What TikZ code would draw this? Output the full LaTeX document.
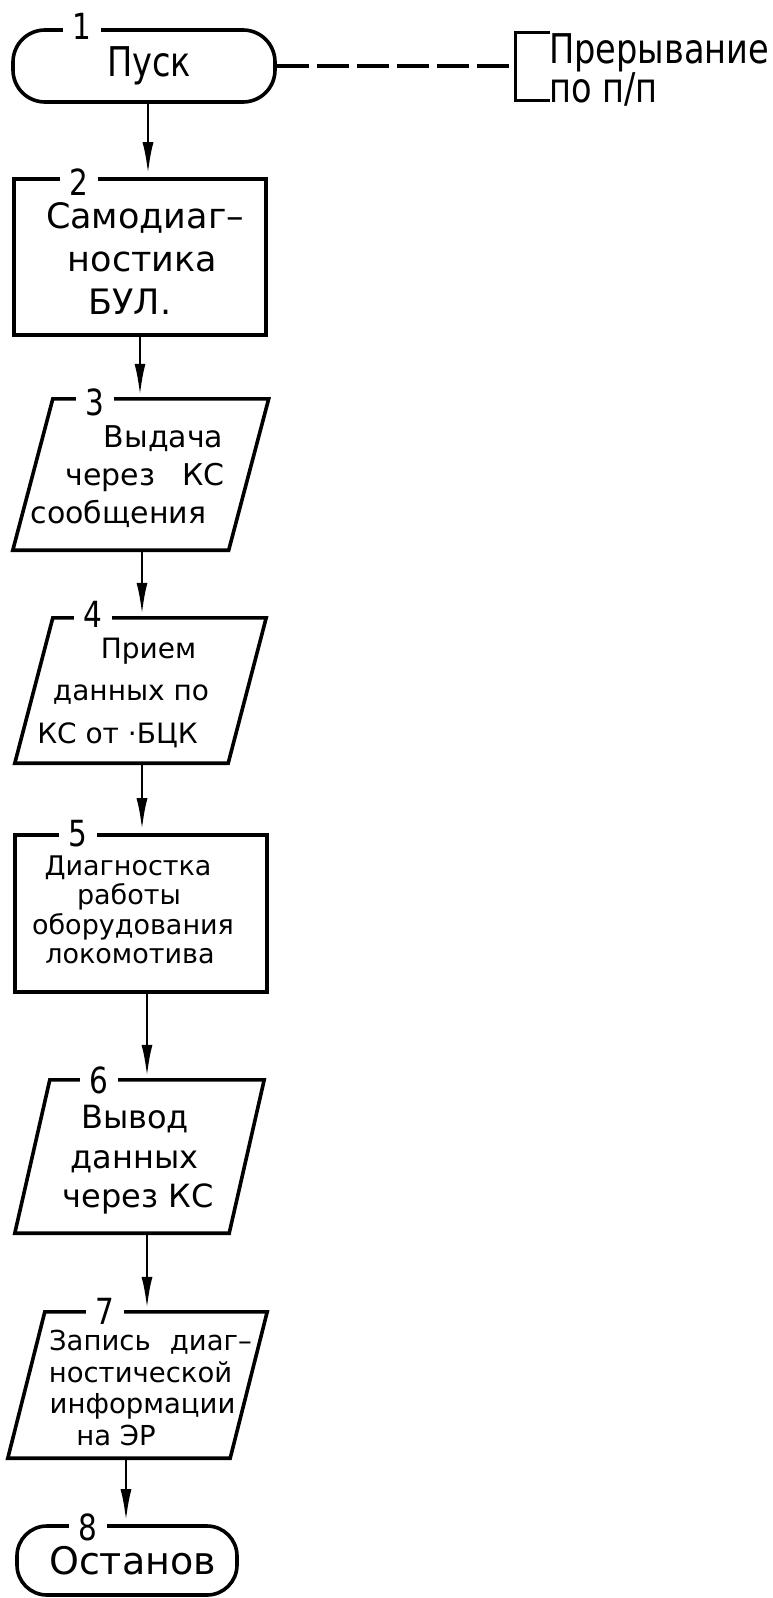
\documentclass[tikz,border=0pt]{standalone}
\usepackage{fontspec}
\setmainfont{DejaVu Sans}
\newfontfamily\narrowsans{DejaVu Sans}[FakeStretch=0.82]
\usetikzlibrary{arrows.meta}
\tikzset{
  frame/.style={draw, line width=3.6pt},
  term/.style={frame, rounded corners=#1, inner sep=0pt},
  proc/.style={frame, inner sep=0pt},
  iobody/.style={inner sep=0pt},
  txt/.style={inner sep=0pt, align=center, anchor=north},
  num/.style={fill=white, inner xsep=10pt, inner ysep=0pt, font=\narrowsans\fontsize{36}{36}\selectfont},
  flow/.style={line width=2.8pt, -{Latex[length=32pt,width=11pt]}, shorten >=3pt},
  fs/.style 2 args={font=\fontsize{#1}{#2}\selectfont},
  nfs/.style 2 args={font=\narrowsans\fontsize{#1}{#2}\selectfont},
}
% parallelogram drawn round an empty node: #1 node name, #2 half of the slant
\newcommand\slantframe[2]{%
  \draw[frame, line join=miter] ([xshift=#2]#1.north west) -- ([xshift=#2]#1.north east)
    -- ([xshift=-#2]#1.south east) -- ([xshift=-#2]#1.south west) -- cycle;}
\begin{document}
\begin{tikzpicture}[x=1pt,y=-1pt]
\useasboundingbox (0,0) rectangle (773,1598);

% 1: start
\node[term=32pt, minimum width=262pt, minimum height=72pt, nfs={41}{41}] (t1) at (144,66) {\hspace*{10pt}Пуск};
\node[num] (n1) at (82,26) {1};

% interrupt note
\coordinate (brk) at (515,66);
\draw[line width=3.2pt, dash pattern=on 32pt off 8pt] (t1.east) -- (brk);
\draw[line width=3pt] (550,32) -- (515,32) -- (515,100) -- (550,100);
\node[anchor=north west, align=left, inner sep=0pt, nfs={41}{29}] (note) at (549,33) {Прерывание\\по п/п};

% 2
\node[proc, minimum width=252pt, minimum height=156pt] (b2) at (140,257) {};
\node[txt, fs={35}{43}] (b2t) at (140,202) {\hspace*{10pt}Самодиаг–\\\hspace*{5pt}ностика\\\hspace*{-20pt}БУЛ.};
\node[num] (n2) at (79,182) {2};

% 3
\node[iobody, minimum width=215.5pt, minimum height=151pt] (p3) at (140.75,474.5) {};
\slantframe{p3}{20pt}
\node[txt, fs={30}{38}] (p3t) at (140,425)
  {\hspace*{47pt}Выдача\\\hspace*{10pt}через\hspace{0.9em}КС\\\hspace*{-43pt}сообщения};
\node[num] (n3) at (95,402) {3};

% 4
\node[iobody, minimum width=213pt, minimum height=145pt] (p4) at (140.5,690.5) {};
\slantframe{p4}{19pt}
\node[txt, fs={28}{42.5}] (p4t) at (141,637.5)
  {\hspace*{15pt}Прием\\\hspace*{-20pt}данных по\\\hspace*{-47pt}КС от ·БЦК};
\node[num] (n4) at (93,614) {4};

% 5
\node[proc, minimum width=252pt, minimum height=157pt] (b5) at (141,913.5) {};
\node[txt, fs={27}{29.5}] (b5t) at (130,855.5)
  {\hspace*{-4pt}Диагностка\\\hspace*{-2pt}работы\\\hspace*{6pt}оборудования\\локомотива};
\node[num] (n5) at (78,834) {5};

% 6
\node[iobody, minimum width=214pt, minimum height=153pt] (p6) at (139.5,1156.5) {};
\slantframe{p6}{17.5pt}
\node[txt, fs={32}{39.5}] (p6t) at (136,1105)
  {\hspace*{-2pt}Вывод\\\hspace*{-3pt}данных\\\hspace*{4pt}через КС};
\node[num] (n6) at (99,1080) {6};

% 7
\node[iobody, minimum width=222pt, minimum height=146pt] (p7) at (137.5,1385) {};
\slantframe{p7}{18.5pt}
\node[txt, fs={27.5}{31.5}] (p7t) at (140,1330)
  {\hspace*{21pt}Запись\hspace{0.7em}диаг–\\\hspace*{1pt}ностической\\\hspace*{5pt}информации\\\hspace*{-48pt}на ЭР};
\node[num] (n7) at (105,1311) {7};

% 8: stop
\node[term=30pt, minimum width=220pt, minimum height=69pt, fs={38}{38}] (t8) at (127,1560.5) {\hspace*{11pt}Останов};
\node[num] (n8) at (88,1527) {8};

% flow lines
\draw[flow] ([xshift=4pt]t1.south) -- ([xshift=8pt]b2.north);
\draw[flow] (b2.south) -- ([xshift=-0.75pt]p3.north);
\draw[flow] ([xshift=1.25pt]p3.south) -- ([xshift=1.5pt]p4.north);
\draw[flow] ([xshift=1.5pt]p4.south) -- ([xshift=1pt]b5.north);
\draw[flow] ([xshift=6pt]b5.south) -- ([xshift=7.5pt]p6.north);
\draw[flow] ([xshift=7.5pt]p6.south) -- ([xshift=9.5pt]p7.north);
\draw[flow] ([xshift=-11.5pt]p7.south) -- ([xshift=-1pt]t8.north);
\end{tikzpicture}
\end{document}
